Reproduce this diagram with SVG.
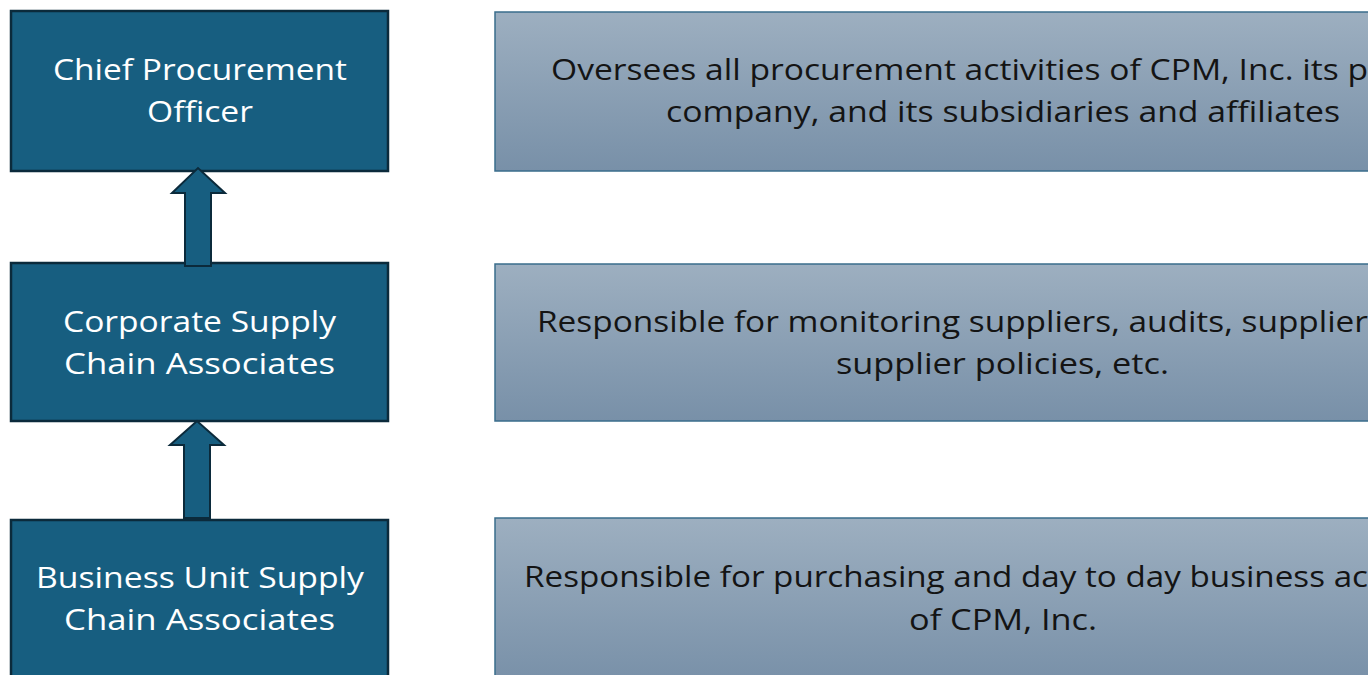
<svg xmlns="http://www.w3.org/2000/svg" width="1368" height="675" viewBox="0 0 1368 675">
<defs>
<linearGradient id="g" x1="0" y1="0" x2="0" y2="1">
<stop offset="0" stop-color="#9dafc0"/>
<stop offset="1" stop-color="#7890a8"/>
</linearGradient>
<style>
.lb{fill:#175e80;stroke:#0b2a3b;stroke-width:2.5}
.rb{fill:url(#g);stroke:#3a6d8c;stroke-width:1.5}
.lt{font-family:"Open Sans","Liberation Sans",Arial,sans-serif;font-size:30px;fill:#ffffff;text-anchor:middle}
.rt{font-family:"Open Sans","Liberation Sans",Arial,sans-serif;font-size:30px;fill:#141414}
.m{text-anchor:middle}
.ar{fill:#175e80;stroke:#0b2a3b;stroke-width:2}
</style>
</defs>
<rect width="1368" height="675" fill="#ffffff"/>
<g id="n1">
<rect class="lb" x="11" y="11" width="377" height="160"/>
<text class="lt" x="200" y="80" textLength="294" lengthAdjust="spacingAndGlyphs">Chief Procurement</text>
<text class="lt" x="200" y="122" textLength="106" lengthAdjust="spacingAndGlyphs">Officer</text>
</g>
<g id="n2">
<rect class="lb" x="11" y="263" width="377" height="158"/>
<text class="lt" x="199.5" y="332" textLength="273" lengthAdjust="spacingAndGlyphs">Corporate Supply</text>
<text class="lt" x="199.5" y="374" textLength="271" lengthAdjust="spacingAndGlyphs">Chain Associates</text>
</g>
<g id="n3">
<rect class="lb" x="11" y="520" width="377" height="160"/>
<text class="lt" x="200" y="588" textLength="328" lengthAdjust="spacingAndGlyphs">Business Unit Supply</text>
<text class="lt" x="199.5" y="630" textLength="271" lengthAdjust="spacingAndGlyphs">Chain Associates</text>
</g>
<g id="d1">
<rect class="rb" x="495" y="12" width="880" height="159"/>
<text class="rt" x="551" y="80" textLength="817" lengthAdjust="spacingAndGlyphs">Oversees all procurement activities of CPM, Inc. its p</text>
<text class="rt m" x="1003" y="122" textLength="674" lengthAdjust="spacingAndGlyphs">company, and its subsidiaries and affiliates</text>
</g>
<g id="d2">
<rect class="rb" x="495" y="264" width="880" height="157"/>
<text class="rt" x="537" y="332" textLength="831" lengthAdjust="spacingAndGlyphs">Responsible for monitoring suppliers, audits, supplier</text>
<text class="rt m" x="1002.5" y="374" textLength="333" lengthAdjust="spacingAndGlyphs">supplier policies, etc.</text>
</g>
<g id="d3">
<rect class="rb" x="495" y="518" width="880" height="165"/>
<text class="rt" x="524" y="587" textLength="844" lengthAdjust="spacingAndGlyphs">Responsible for purchasing and day to day business ac</text>
<text class="rt m" x="1003" y="630" textLength="188" lengthAdjust="spacingAndGlyphs">of CPM, Inc.</text>
</g>
<g id="connectors">
<path class="ar" d="M185,266 L185,193 L172,193 L198,168 L225,193 L211,193 L211,266 Z"/>
<path class="ar" d="M184,518 L184,445 L170,445 L197,421 L224,445 L210,445 L210,518 Z"/>
</g>
</svg>
